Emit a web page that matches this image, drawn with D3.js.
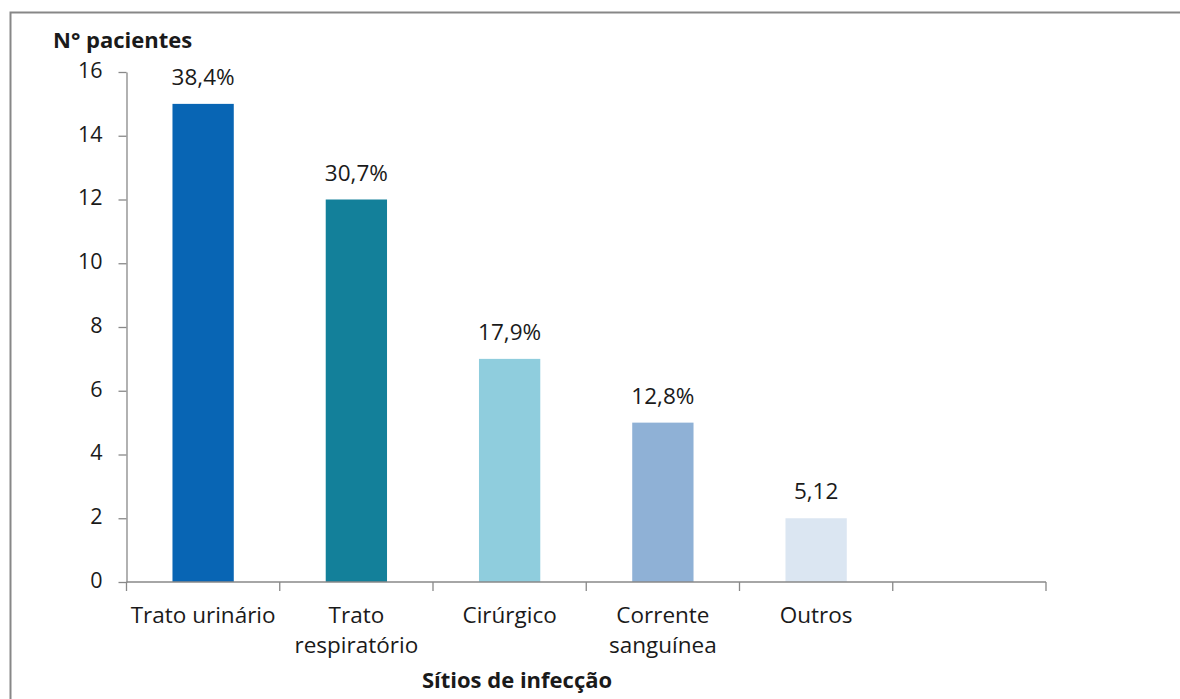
<!DOCTYPE html>
<html>
<head>
<meta charset="utf-8">
<script src="https://cdn.jsdelivr.net/npm/d3@7"></script>
<style>
  html, body { margin: 0; padding: 0; background: #fff; }
  svg { display: block; }
  text { font-family: "Open Sans", "Noto Sans", sans-serif; fill: #1a1a1a; }
</style>
</head>
<body>
<svg id="chart" width="1180" height="699"></svg>
<script>
// Infection sites and number of patients
const categories = ["Trato urinário", "Trato respiratório", "Cirúrgico", "Corrente sanguínea", "Outros", ""];
const categoryLines = [["Trato urinário"], ["Trato", "respiratório"], ["Cirúrgico"], ["Corrente", "sanguínea"], ["Outros"], []];
const patients = [15, 12, 7, 5, 2];
const percentLabels = ["38,4%", "30,7%", "17,9%", "12,8%", "5,12"];
const barColors = ["#0865b4", "#13809a", "#8fcddd", "#8fb1d6", "#dbe6f2"];
const yTicks = [0, 2, 4, 6, 8, 10, 12, 14, 16];

const svg = d3.select("#chart");

// outer frame (top and left edges)
svg.append("path")
  .attr("d", "M10.5,699 V12.5 H1180")
  .attr("fill", "none")
  .attr("stroke", "#878787")
  .attr("stroke-width", 2);

const plot = { left: 126.5, right: 1046, top: 72, bottom: 582 };

const x = d3.scaleBand()
  .domain(d3.range(categories.length))
  .range([plot.left, plot.right])
  .padding(0);

const y = d3.scaleLinear()
  .domain([0, 16])
  .range([plot.bottom, plot.top]);

const axisColor = "#888888";

// y axis
const yAxis = svg.append("g")
  .attr("transform", `translate(${plot.left},0)`)
  .call(d3.axisLeft(y).tickValues(yTicks).tickSize(8).tickPadding(16).tickSizeOuter(0));
yAxis.select(".domain").attr("stroke", axisColor).attr("stroke-width", 1.3);
yAxis.selectAll(".tick line").attr("stroke", axisColor).attr("stroke-width", 1.3);
yAxis.selectAll(".tick text")
  .attr("font-size", 21.5)
  .attr("dy", "0.25em")
  .attr("fill", "#1a1a1a")
  .style("font-family", "'Open Sans', sans-serif");

// bars
const step = x.step();
svg.append("g").selectAll("rect")
  .data(patients)
  .join("rect")
  .attr("x", (d, i) => x(i) + step * 0.3)
  .attr("width", step * 0.4)
  .attr("y", d => y(d))
  .attr("height", d => y(0) - y(d))
  .attr("fill", (d, i) => barColors[i]);

// value labels
svg.append("g").selectAll("text")
  .data(patients)
  .join("text")
  .attr("x", (d, i) => x(i) + step / 2)
  .attr("y", d => y(d) - 19)
  .attr("text-anchor", "middle")
  .attr("font-size", 22.5)
  .text((d, i) => percentLabels[i]);

// x axis line and ticks
svg.append("line")
  .attr("x1", plot.left).attr("x2", plot.right)
  .attr("y1", plot.bottom).attr("y2", plot.bottom)
  .attr("stroke", axisColor).attr("stroke-width", 1.3);
svg.append("g").selectAll("line")
  .data(d3.range(categories.length + 1))
  .join("line")
  .attr("x1", i => plot.left + i * step)
  .attr("x2", i => plot.left + i * step)
  .attr("y1", plot.bottom)
  .attr("y2", plot.bottom + 9)
  .attr("stroke", axisColor).attr("stroke-width", 1.3);

// category labels
const catG = svg.append("g").selectAll("text")
  .data(categoryLines)
  .join("text")
  .attr("x", (d, i) => x(i) + step / 2)
  .attr("y", 623)
  .attr("text-anchor", "middle")
  .attr("font-size", 22.5);
catG.selectAll("tspan")
  .data(d => d)
  .join("tspan")
  .attr("x", function() { return d3.select(this.parentNode).attr("x"); })
  .attr("dy", (d, i) => i === 0 ? 0 : 30)
  .text(d => d);

// axis titles
svg.append("text")
  .attr("x", 53).attr("y", 47.5)
  .attr("font-size", 22)
  .attr("font-weight", "bold")
  .text("N° pacientes");

svg.append("text")
  .attr("x", 517).attr("y", 688)
  .attr("text-anchor", "middle")
  .attr("font-size", 22)
  .attr("font-weight", "bold")
  .text("Sítios de infecção");
</script>
</body>
</html>
